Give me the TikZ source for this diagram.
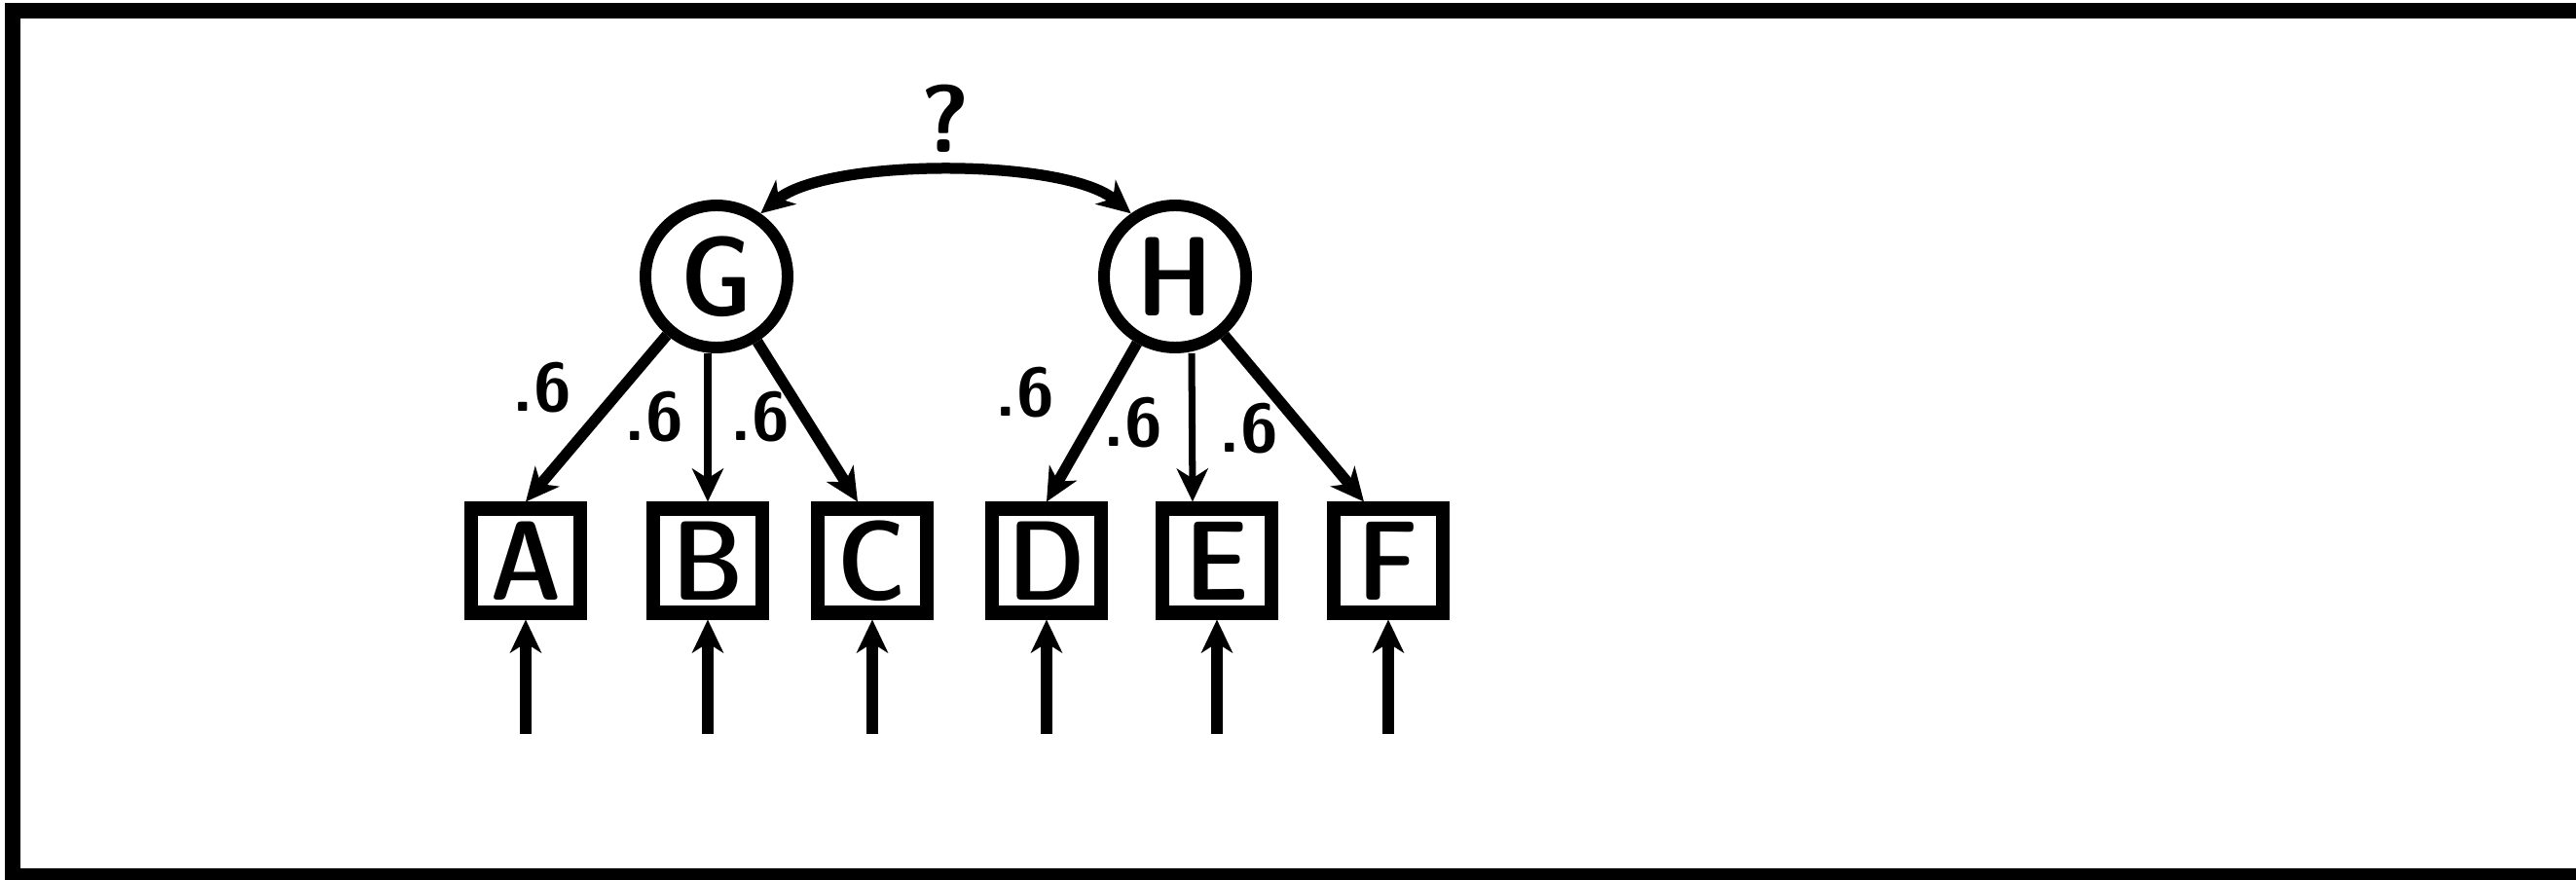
\documentclass[tikz,border=0pt]{standalone}
\usepackage{tikz}
\usetikzlibrary{arrows.meta, positioning}

\begin{document}
\begin{tikzpicture}[
    >={Stealth[length=0.34cm, width=0.32cm, inset=0.1cm]},
    latent/.style={draw, circle, line width=3.4pt, minimum size=1.46cm, inner sep=0pt, font=\sffamily\fontseries{sbc}\selectfont\fontsize{33}{36}\selectfont},
    observed/.style={draw, rectangle, line width=4pt, minimum width=1.12cm, minimum height=1.07cm, inner sep=0pt, font=\sffamily\fontseries{sbc}\selectfont\fontsize{33}{36}\selectfont},
    load/.style={font=\sffamily\bfseries\fontsize{20}{24}\selectfont, inner sep=1pt},
    edge/.style={->, line width=3.2pt},
    thinedge/.style={->, line width=2pt},
    frameline/.style={line width=4.6pt},
  ]
  \useasboundingbox (0,0) rectangle (26.46,9.03);
  \draw[frameline] (26.46,8.92) -- (0.13,8.92) -- (0.13,0.03) -- (26.46,0.03);
  % latent variables
  \node[latent] (G) at (7.36,6.19) {G};
  \node[latent] (H) at (12.07,6.19) {H};
  % indicators
  \node[observed] (A) at (5.40,3.27) {A};
  \node[observed] (B) at (7.27,3.27) {B};
  \node[observed] (C) at (8.96,3.27) {C};
  \node[observed] (D) at (10.75,3.27) {D};
  \node[observed] (E) at (12.50,3.27) {E};
  \node[observed] (F) at (14.26,3.27) {F};
  % correlation between factors
  \draw[edge, <->] (G.55) to[out=40, in=140, looseness=0.6] node[above, inner sep=4pt, font=\sffamily\bfseries\fontsize{28}{30}\selectfont] (q) {?} (H.125);
  % loadings
  \draw[edge] (G) -- (A.north);
  \draw[thinedge] (G.south -| B.north) -- (B.north);
  \draw[edge] (G) -- ([xshift=-0.15cm]C.north);
  \draw[edge] (H) -- (D.north);
  \draw[thinedge] ([xshift=0.17cm]H.south) -- ([xshift=-0.25cm]E.north);
  \draw[edge] (H) -- ([xshift=-0.25cm]F.north);
  \node[load] (lGA) at (5.57,5.05) {.6};
  \node[load] (lGB) at (6.72,4.75) {.6};
  \node[load] (lGC) at (7.81,4.75) {.6};
  \node[load] (lHD) at (10.53,5.00) {.6};
  \node[load] (lHE) at (11.64,4.69) {.6};
  \node[load] (lHF) at (12.83,4.63) {.6};
  % error terms
  \foreach \v in {A,B,C,D,E,F} {
    \coordinate[below=1.17cm of \v.south] (e\v);
    \draw[edge] (e\v) -- (\v.south);
  }
\end{tikzpicture}
\end{document}
